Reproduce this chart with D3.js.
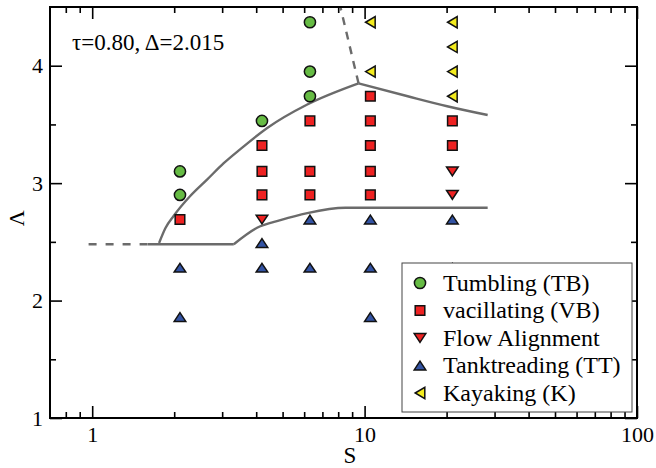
<!DOCTYPE html>
<html>
<head>
<meta charset="utf-8">
<script src="https://cdn.jsdelivr.net/npm/d3@7"></script>
<style>
  body { margin: 0; background: #fff; }
</style>
</head>
<body>
<div id="canvas"></div>
<script>
// phase points [S, Lambda]
var tumbling = [[2.1, 3.1], [2.1, 2.9], [4.2, 3.53], [6.3, 4.37], [6.3, 3.95], [6.3, 3.74]];
var vacillating = [[2.1, 2.69], [4.2, 3.32], [4.2, 3.1], [4.2, 2.9], [6.3, 3.53], [6.3, 3.1], [6.3, 2.9],
    [10.5, 3.74], [10.5, 3.53], [10.5, 3.32], [10.5, 3.1], [10.5, 2.9], [21, 3.53], [21, 3.32]];
var flowAlignment = [[4.2, 2.69], [21, 3.1], [21, 2.9]];
var tanktreading = [[2.1, 2.28], [2.1, 1.86], [4.2, 2.49], [4.2, 2.28], [6.3, 2.69], [6.3, 2.28],
    [10.5, 2.69], [10.5, 2.28], [10.5, 1.86], [21, 2.69], [21, 2.28]];
var kayaking = [[10.5, 4.37], [10.5, 3.95], [21, 4.37], [21, 4.16], [21, 3.95], [21, 3.74]];

// phase boundaries
var upperRising = [[1.76, 2.49], [1.86, 2.62], [1.99, 2.72], [2.29, 2.89], [2.64, 3.03], [3.04, 3.17],
    [3.5, 3.29], [4.39, 3.47], [6.16, 3.67], [9.5, 3.85]];
var upperFalling = [[9.5, 3.85], [14.4, 3.74], [20.1, 3.655], [28.3, 3.58]];
var upperDashed = [[9.5, 3.85], [8.15, 4.5]];
var lowerFlat = [[1.6, 2.48], [3.31, 2.48]];
var lowerRising = [[3.31, 2.48], [4.03, 2.62], [4.91, 2.685], [6.16, 2.745], [8.5, 2.79], [28.3, 2.79]];
var lowerDashed = [[0.97, 2.48], [1.6, 2.48]];

var legendLabels = ["Tumbling (TB)", "vacillating (VB)", "Flow Alignment", "Tanktreading (TT)", "Kayaking (K)"];
var xMajor = [1, 10, 100];
var xMinor = [0.8, 0.9, 2, 3, 4, 5, 6, 7, 8, 9, 20, 30, 40, 50, 60, 70, 80, 90];
var yMajor = [1, 2, 3, 4];
var yMinor = [1.5, 2.5, 3.5];

var WIDTH = 656, HEIGHT = 468;
var margin = { left: 50, top: 7, right: 19, bottom: 50 };
var FONT = "'Liberation Serif', Tinos, 'Nimbus Roman', 'Nimbus Roman No9 L', FreeSerif, 'Noto Serif', 'DejaVu Serif', 'Times New Roman', Times, serif";

var svg = d3.select("#canvas").append("svg")
    .attr("width", WIDTH)
    .attr("height", HEIGHT)
    .style("font-family", FONT);

var x = d3.scaleLog().domain([0.7, 100]).range([margin.left, WIDTH - margin.right]);
var y = d3.scaleLinear().domain([1, 4.5]).range([HEIGHT - margin.bottom, margin.top]);

// axes, ticks pointing inward
function addAxis(axis, tx, ty, labels) {
    var g = svg.append("g")
        .attr("transform", "translate(" + tx + "," + ty + ")")
        .call(axis)
        .attr("font-family", null)
        .attr("font-size", null);
    g.select(".domain").remove();
    g.selectAll("line").attr("stroke", "#000").attr("stroke-width", 1.6);
    g.selectAll("text").style("font-size", "22px").attr("fill", "#000");
    if (!labels) g.selectAll("text").remove();
    return g;
}
var bottom = HEIGHT - margin.bottom, right = WIDTH - margin.right;
addAxis(d3.axisBottom(x).tickValues(xMajor).tickFormat(d3.format("d")).tickSize(-12).tickPadding(8), 0, bottom, true);
addAxis(d3.axisBottom(x).tickValues(xMinor).tickSize(-6), 0, bottom, false);
addAxis(d3.axisTop(x).tickValues(xMajor).tickSize(-12), 0, margin.top, false);
addAxis(d3.axisTop(x).tickValues(xMinor).tickSize(-6), 0, margin.top, false);
addAxis(d3.axisLeft(y).tickValues(yMajor).tickFormat(d3.format("d")).tickSize(-12).tickPadding(7), margin.left, 0, true);
addAxis(d3.axisLeft(y).tickValues(yMinor).tickSize(-6), margin.left, 0, false);
addAxis(d3.axisRight(y).tickValues(yMajor).tickSize(-12), right, 0, false);
addAxis(d3.axisRight(y).tickValues(yMinor).tickSize(-6), right, 0, false);

// boundary lines
var smooth = d3.line().curve(d3.curveMonotoneX)
    .x(function (d) { return x(d[0]); }).y(function (d) { return y(d[1]); });
var straight = d3.line()
    .x(function (d) { return x(d[0]); }).y(function (d) { return y(d[1]); });
[[upperRising, smooth, null], [upperFalling, smooth, null], [lowerFlat, straight, null],
 [lowerRising, smooth, null], [upperDashed, straight, "8,7"], [lowerDashed, straight, "8,9"]].forEach(function (l) {
    svg.append("path")
        .attr("d", l[1](l[0]))
        .attr("fill", "none")
        .attr("stroke", "#6b6b6b")
        .attr("stroke-width", 2.4)
        .attr("stroke-dasharray", l[2]);
});

// marker shapes
var shapes = {
    circle: "M0,-5.6A5.6,5.6 0 1,1 0,5.6A5.6,5.6 0 1,1 0,-5.6Z",
    square: "M-4.8,-4.8H4.8V4.8H-4.8Z",
    up: "M0,-4.4L5.8,4.4H-5.8Z",
    down: "M0,4.4L5.8,-4.4H-5.8Z",
    left: "M-4.8,0L4.8,-5.6V5.6Z"
};
var series = [
    { data: tumbling, shape: "circle", color: "#66bb44" },
    { data: vacillating, shape: "square", color: "#ee2222" },
    { data: flowAlignment, shape: "down", color: "#ee2222" },
    { data: tanktreading, shape: "up", color: "#3353a3" },
    { data: kayaking, shape: "left", color: "#f4ec1e" }
];
series.forEach(function (s) {
    svg.append("g").selectAll("path")
        .data(s.data)
        .enter()
        .append("path")
        .attr("transform", function (d) { return "translate(" + x(d[0]) + "," + y(d[1]) + ")"; })
        .attr("d", shapes[s.shape])
        .attr("fill", s.color)
        .attr("stroke", "#111")
        .attr("stroke-width", 1.5);
});

// frame
svg.append("rect")
    .attr("x", margin.left).attr("y", margin.top)
    .attr("width", right - margin.left).attr("height", bottom - margin.top)
    .attr("fill", "none").attr("stroke", "#000").attr("stroke-width", 2);

// legend
var legend = svg.append("g").attr("transform", "translate(402,263)");
legend.append("rect")
    .attr("width", 230).attr("height", 149)
    .attr("fill", "#fff").attr("stroke", "#444").attr("stroke-width", 1);
var items = legend.selectAll("g.item")
    .data(series)
    .enter()
    .append("g")
    .attr("transform", function (d, i) { return "translate(18," + (20 + i * 27.5) + ")"; });
items.append("path")
    .attr("d", function (d) { return shapes[d.shape]; })
    .attr("fill", function (d) { return d.color; })
    .attr("stroke", "#111")
    .attr("stroke-width", 1.5);
items.append("text")
    .attr("x", 23)
    .attr("dy", "0.33em")
    .style("font-size", "24px")
    .text(function (d, i) { return legendLabels[i]; });

// annotation and axis titles
svg.append("text").attr("x", 72).attr("y", 50).style("font-size", "23px").text("τ=0.80, Δ=2.015");
svg.append("text").attr("x", (x(10) - 21)).attr("y", 463).style("font-size", "23px").text("S");
svg.append("text")
    .attr("transform", "translate(24," + y(2.7) + ") rotate(-90)")
    .attr("text-anchor", "middle")
    .style("font-size", "22px")
    .text("Λ");
</script>
</body>
</html>
